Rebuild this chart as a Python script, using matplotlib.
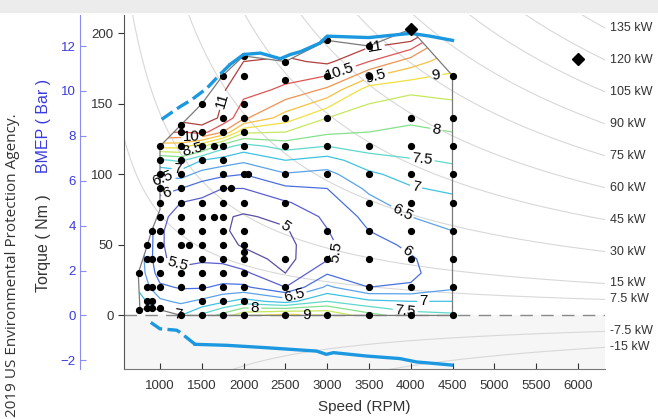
import numpy as np
import matplotlib
matplotlib.use("Agg")
import matplotlib.pyplot as plt
from matplotlib.patches import Polygon, Rectangle
from matplotlib.transforms import blended_transform_factory

plt.rcParams['font.family'] = ['Liberation Sans', 'DejaVu Sans']

# ---- map grid ----
speeds = [750, 1000, 1250, 1500, 1750, 2000, 2500, 3000, 3500, 4000, 4500]
torques = [0, 10, 20, 30, 40, 50, 60, 70, 80, 90, 100, 110, 120, 130, 140, 160, 180, 200]

z_750 = [7.6, 7.2, 6.9, 6.8, 6.8, 6.85, 6.9, 7.0, 7.2, 7.5, 8.0, 8.8, 10.0, 11.0, 11.5, 12, 12, 12]
z_1000 = [7.1, 6.6, 6.1, 5.75, 5.55, 5.55, 5.55, 5.6, 5.8, 6.2, 6.6, 7.4, 9.2, 10.6, 11.2, 12, 12, 12]
z_1250 = [7.0, 6.4, 5.95, 5.6, 5.4, 5.3, 5.3, 5.35, 5.5, 6.0, 6.7, 7.6, 9.2, 10.5, 11.2, 11.6, 12, 12]
z_1500 = [7.6, 6.6, 5.95, 5.65, 5.45, 5.3, 5.2, 5.25, 5.4, 5.7, 6.3, 7.0, 8.6, 10.7, 11.3, 11.6, 12, 12]
z_1750 = [8.2, 6.9, 6.1, 5.7, 5.4, 5.15, 5.05, 5.05, 5.2, 5.5, 6.1, 6.8, 7.7, 10.0, 10.9, 11.05, 11.3, 12]
z_2000 = [8.9, 7.2, 6.1, 5.6, 5.2, 4.95, 4.9, 4.95, 5.2, 5.5, 6.0, 6.6, 7.3, 8.6, 10.1, 10.7, 11.0, 11.5]
z_2500 = [9.2, 6.8, 5.5, 5.0, 4.85, 4.85, 4.95, 5.1, 5.45, 5.9, 6.45, 7.0, 7.7, 8.5, 9.25, 10.4, 10.9, 11.5]
z_3000 = [9.0, 7.5, 6.6, 5.95, 5.45, 5.42, 5.48, 5.6, 5.8, 6.0, 6.35, 6.8, 7.5, 8.1, 8.5, 9.9, 11.1, 12]
z_3500 = [8.2, 7.1, 6.0, 5.75, 5.7, 5.8, 6.0, 6.15, 6.35, 6.6, 6.9, 7.3, 7.7, 8.0, 8.25, 8.75, 10.5, 11.5]
z_4000 = [7.7, 7.0, 6.05, 5.9, 5.95, 6.1, 6.3, 6.5, 6.75, 6.95, 7.2, 7.45, 7.8, 7.95, 8.05, 8.6, 9.75, 11.5]
z_4500 = [7.6, 7.0, 6.4, 6.3, 6.3, 6.4, 6.5, 6.65, 6.85, 7.1, 7.35, 7.55, 7.8, 8.0, 8.15, 8.7, 9.2, 10.0]

levels = [5, 5.5, 6, 6.5, 7, 7.5, 8, 8.5, 9, 9.5, 10, 10.5, 11]
level_colors = ['#5a4fa6', '#5b5fd0', '#4a70e0', '#5aa2ea', '#3fc2e2', '#5fd8cc',
                '#86e08e', '#c6e85e', '#f0e03e', '#f8c040', '#f29250', '#e05454', '#b0403e']

# map outline (rpm, Nm)
outline_rpm = [760, 850, 1000, 1250, 4500, 4500, 4000, 3500, 3000, 2500, 2000, 1750, 1500,
               1250, 1000, 1000, 900, 850, 740]
outline_nm = [4, 5, 4, 0, 0, 170, 203, 191, 195, 180, 184, 170, 150,
              135, 120, 75, 60, 50, 30]

# test points
pts = {
    750: [4, 30],
    850: [5, 10, 20, 40, 50],
    900: [5, 10, 20, 40, 60],
    1000: [5, 20, 30, 40, 50, 60, 70, 80, 90, 100, 110, 120],
    1250: [0, 20, 30, 50, 60, 70, 80, 90, 100, 110, 120, 130, 135],
    1350: [50],
    1500: [0, 10, 20, 30, 40, 50, 60, 70, 80, 110, 120, 130, 150],
    1650: [70, 120],
    1750: [0, 10, 20, 30, 40, 50, 60, 70, 80, 90, 100, 110, 120, 130, 140, 170],
    1850: [90],
    2000: [0, 10, 20, 30, 40, 45, 50, 60, 80, 100, 120, 130, 140, 150, 170, 184],
    2050: [100],
    2500: [0, 20, 40, 80, 100, 120, 140, 167, 180],
    3000: [0, 40, 60, 100, 120, 140, 170, 195],
    3500: [0, 20, 40, 60, 80, 100, 120, 170, 191],
    4000: [0, 20, 40, 60, 80, 100, 120, 140],
    4500: [0, 20, 40, 60, 80, 100, 120, 140, 170],
}

# max torque (WOT) and motoring curves
wot_dash_rpm = [1020, 1240, 1380, 1560, 1720, 1840]
wot_dash_nm = [139, 148, 153, 161, 171, 178]
wot_rpm = [1840, 2000, 2200, 2440, 2560, 2680, 2910, 3000, 3500, 4000, 4230, 4500]
wot_nm = [178, 185, 186, 182, 185, 187, 193, 198, 197, 200, 198, 195]
mot_dash_rpm = [890, 1000, 1200, 1240, 1420]
mot_dash_nm = [-5, -9.5, -10.5, -12, -20.5]
mot_rpm = [1420, 1800, 2275, 2875, 2990, 3075, 3470, 3870, 4070, 4270, 4490]
mot_nm = [-20.5, -21.2, -22.9, -25.3, -27.6, -26.4, -28.8, -30.6, -33, -34, -35.2]

rated_rpm = [4000, 6000]
rated_nm = [203, 182]

power_kw = [-15, -7.5, 7.5, 15, 30, 45, 60, 75, 90, 105, 120, 135]

label_pos = [(1780, 152), (3570, 191), (3153, 173), (3572, 172), (4310, 168), (4310, 132),
             (4130, 106), (4070, 93), (3870, 70), (3890, 40), (3040, 45), (2500, 63),
             (1240, 40), (2615, 13), (2136, 6), (1215, 3), (4150, 9), (3930, 2),
             (1379, 125), (1395, 117), (1215, 105), (1036, 100), (1080, 88), (2750, 0)]

displacement_l = 2.0
xlim = (569, 6325)
ylim = (-38, 213)

# ---- figure ----
fig = plt.figure(figsize=(6.58, 4.19), dpi=100)
fig.patches.append(Rectangle((0, 0.972), 1, 0.028, transform=fig.transFigure,
                             color='#ececec', zorder=-5))
ax = fig.add_axes([0.1884, 0.1193, 0.7311, 0.8449])
ax.set_xlim(*xlim)
ax.set_ylim(*ylim)

ax.axhspan(ylim[0], 0, color='#f6f6f6', zorder=0)

# constant power lines
n = np.linspace(xlim[0], xlim[1], 300)
tr = blended_transform_factory(ax.transAxes, ax.transData)
for p in power_kw:
    t = p * 60000.0 / (2 * np.pi * n)
    ax.plot(n, t, color='#d8d8d8', lw=0.8, zorder=1)
    ax.text(1.01, p * 60000.0 / (2 * np.pi * xlim[1]), '%g kW' % p, transform=tr,
            ha='left', va='center', fontsize=9, color='#333333', clip_on=False)

ax.axhline(0, color='#8a8a8a', lw=1.0, ls=(0, (9, 6)), zorder=2)

# contours
S, T = np.meshgrid(speeds, torques)
Z = np.column_stack([z_750, z_1000, z_1250, z_1500, z_1750, z_2000, z_2500,
                     z_3000, z_3500, z_4000, z_4500])
cs = ax.contour(S, T, Z, levels=levels, colors=level_colors, linewidths=0.9, zorder=3)
clip = Polygon(np.column_stack([outline_rpm, outline_nm]), closed=True,
               transform=ax.transData)
cs.set_clip_path(clip)
ax.clabel(cs, manual=label_pos, inline=True, fontsize=11, fmt='%g', colors='black',
          inline_spacing=2)

ax.plot(outline_rpm + [outline_rpm[0]], outline_nm + [outline_nm[0]],
        color='#7a7a7a', lw=0.9, zorder=4)

for rpm, tq in pts.items():
    ax.plot([rpm] * len(tq), tq, 'o', color='black', ms=4.2, zorder=5)

blue = '#1b98df'
ax.plot(wot_dash_rpm, wot_dash_nm, color=blue, lw=2.4, ls=(0, (4, 1.6)), zorder=6)
ax.plot(wot_rpm, wot_nm, color=blue, lw=2.4, zorder=6)
ax.plot(mot_dash_rpm, mot_dash_nm, color=blue, lw=2.4, ls=(0, (4, 1.6)), zorder=6)
ax.plot(mot_rpm, mot_nm, color=blue, lw=2.4, zorder=6)

ax.plot(rated_rpm, rated_nm, 'D', color='black', ms=6.5, zorder=7, clip_on=False)

# axes styling
for s in ['top', 'right']:
    ax.spines[s].set_visible(False)
ax.spines['left'].set_color('#555555')
ax.spines['bottom'].set_color('#777777')
ax.set_xticks(np.arange(1000, 6001, 500))
ax.set_yticks([0, 50, 100, 150, 200])
ax.tick_params(axis='x', direction='in', length=4, labelsize=9.5, colors='#333333',
               pad=8)
ax.tick_params(axis='y', direction='out', length=4, labelsize=9.5, colors='#333333')
ax.set_xlabel('Speed (RPM)', fontsize=11, color='#333333', labelpad=6)

# BMEP axis
k = displacement_l * 1e-3 * 1e5 / (4 * np.pi)
ax2 = ax.twinx()
ax2.set_ylim(ylim[0] / k, ylim[1] / k)
for s in ['top', 'right', 'bottom']:
    ax2.spines[s].set_visible(False)
ax2.spines['left'].set_visible(True)
ax2.spines['left'].set_position(('axes', -0.0915))
ax2.spines['left'].set_color('#8c8cf0')
ax2.yaxis.set_ticks_position('left')
ax2.set_yticks(np.arange(-2, 13, 2))
ax2.tick_params(axis='y', direction='in', length=4, labelsize=9.5, colors='#8c8cf0',
                labelcolor='#3a3ae0', pad=3)

fig.text(0.066, 0.537, 'Torque ( Nm )', rotation=90, ha='center', va='top',
         fontsize=11.5, color='#333333')
fig.text(0.066, 0.588, 'BMEP ( Bar )', rotation=90, ha='center', va='bottom',
         fontsize=11.5, color='#3a3ae0')
fig.text(0.019, 0.004, '2019 US Environmental Protection Agency.', rotation=90,
         ha='center', va='bottom', fontsize=11, color='#333333',
         family=['Open Sans', 'DejaVu Sans'])

fig.savefig('out.png', dpi=100)
